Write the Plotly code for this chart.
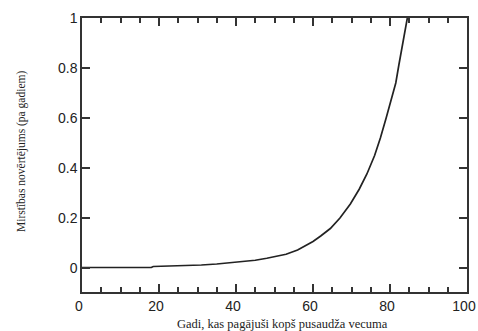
import plotly.graph_objects as go

age = [0, 18, 18.5, 25, 31, 35, 41, 45, 48, 51, 53, 56, 58, 60, 62, 64.5, 67, 69.7,
       72, 74, 76, 77.5, 79, 80.2, 81.5, 82.3, 83.3, 84.5]
mortality = [0.002, 0.002, 0.006, 0.008, 0.012, 0.016, 0.024, 0.031, 0.039,
             0.047, 0.055, 0.072, 0.088, 0.106, 0.128, 0.158, 0.2, 0.256, 0.315,
             0.376, 0.45, 0.52, 0.6, 0.67, 0.74, 0.812, 0.895, 1.0]

x_tick_step = 20
x_minor_step = 5
y_tick_step = 0.2

x_title = "Gadi, kas pagājuši kopš pusaudža vecuma"
y_title = "Mirstības novērtējums (pa gadiem)"

fig = go.Figure()
fig.add_trace(go.Scatter(x=age, y=mortality, mode="lines",
                         line=dict(color="#222", width=1.7),
                         showlegend=False, hoverinfo="skip"))

tickfont = dict(family="Liberation Sans, Arial", size=14, color="#222")

fig.update_xaxes(range=[0, 100], tick0=0, dtick=x_tick_step,
                 ticks="inside", ticklen=8, tickwidth=1.5, tickcolor="#333",
                 minor=dict(tick0=0, dtick=x_minor_step, ticks="inside", ticklen=5,
                            tickcolor="#333", tickwidth=1.5),
                 showline=True, linecolor="#333", linewidth=1.5, mirror="ticks",
                 showgrid=False, zeroline=False, tickfont=tickfont,
                 ticklabeloverflow="allow", ticklabelshift=-3)
fig.update_yaxes(range=[-0.096, 1], tick0=0, dtick=y_tick_step,
                 ticks="inside", ticklen=8, tickwidth=1.5, tickcolor="#333",
                 showline=True, linecolor="#333", linewidth=1.5, mirror="ticks",
                 showgrid=False, zeroline=False, tickfont=tickfont,
                 ticklabeloverflow="allow")

fig.add_annotation(text=x_title, xref="paper", yref="paper", x=0.5, y=0,
                   xshift=8, yshift=-32, showarrow=False, yanchor="middle",
                   font=dict(family="Liberation Serif, Times New Roman", size=12.5, color="#222"))
fig.add_annotation(text=y_title, xref="paper", yref="paper", x=0, y=0.5,
                   xshift=-61, yshift=3, showarrow=False, textangle=-90, xanchor="center",
                   font=dict(family="Liberation Serif, Times New Roman", size=11.5, color="#222"))

fig.update_layout(template="none", width=478, height=331,
                  margin=dict(l=82, r=11, t=18, b=39),
                  plot_bgcolor="white", paper_bgcolor="white")

fig.write_html("out.html")
